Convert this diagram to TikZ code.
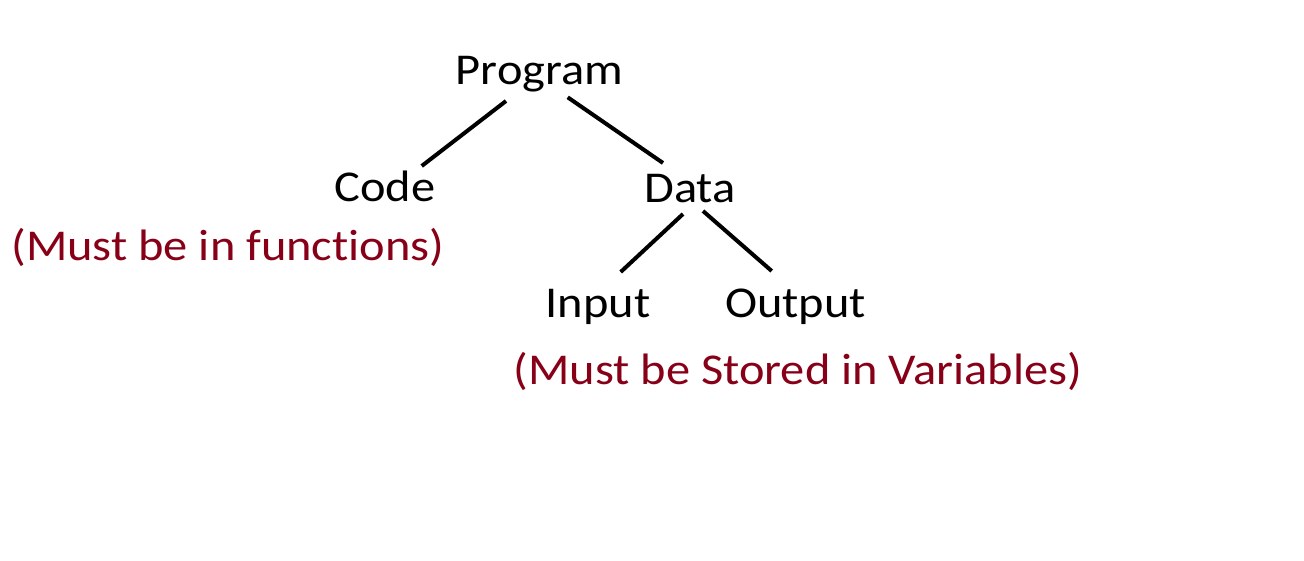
\documentclass[tikz,border=0pt]{standalone}
\usepackage{fontspec}
\setmainfont{Carlito}[FakeStretch=1.1,Ligatures=NoCommon]
\definecolor{notered}{RGB}{135,0,24}
\begin{document}
\begin{tikzpicture}[x=1pt,y=-1pt,
  lbl/.style={inner sep=0pt,anchor=base,font=\fontsize{44}{50}\selectfont},
  notelbl/.style={lbl,text=notered},
  link/.style={line width=4pt}]
\useasboundingbox[fill=white] (0,0) rectangle (1304,560);
\node[lbl] (prog) at (539.5,84) {Program};
\node[lbl] (code) at (385,201) {Code};
\node[lbl] (data) at (690,202) {Data};
\node[lbl] (input) at (598,317) {Input};
\node[lbl] (output) at (795.5,317) {Output};
\node[notelbl] (codenote) at (228,260) {(Must be in functions)};
\node[notelbl] (datanote) at (798,384) {(Must be Stored in Variables)};
\draw[link] ([shift={(-33.5,17)}]prog.base) -- ([shift={(36.7,-35)}]code.base);
\draw[link] ([shift={(28.2,13.3)}]prog.base) -- ([shift={(-27,-39)}]data.base);
\draw[link] ([shift={(-7,12)}]data.base) -- ([shift={(22.7,-45)}]input.base);
\draw[link] ([shift={(13,9)}]data.base) -- ([shift={(-23.8,-46)}]output.base);
\end{tikzpicture}
\end{document}
